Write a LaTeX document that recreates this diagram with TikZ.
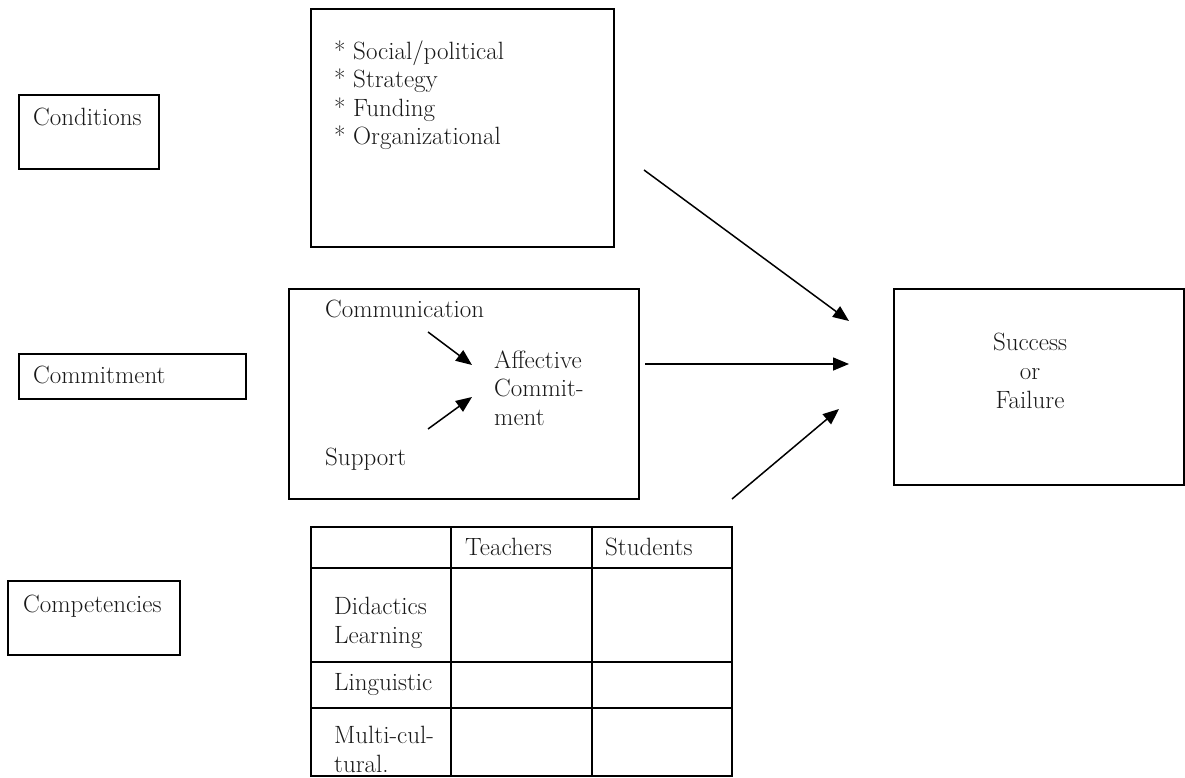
\documentclass[tikz,border=0pt]{standalone}
\usepackage{fontspec}
\usetikzlibrary{arrows.meta}
\begin{document}
\begin{tikzpicture}[x=1pt,y=-1pt,
  box/.style={draw,line width=1.6pt,inner sep=0pt,anchor=north west},
  txt/.style={anchor=base west,inner sep=0pt,align=left,text=black!90,font=\fontsize{25}{28.5}\selectfont},
  ctxt/.style={anchor=base,inner sep=0pt,align=center,text=black!90,font=\fontsize{25}{29}\selectfont},
  arr/.style={line width=1.5pt,-{Triangle[length=16pt,width=13pt]}},
  grid/.style={line width=1.6pt}]
\useasboundingbox (0,0) rectangle (1185,778);

% left labels
\node[box,minimum width=140pt,minimum height=74pt] (condbox) at (18,94) {};
\node[txt] (condtxt) at (33,126) {Conditions};
\node[box,minimum width=227pt,minimum height=45pt] (commbox) at (18,353) {};
\node[txt] (commtxt) at (33,383) {Commitment};
\node[box,minimum width=172pt,minimum height=74pt] (compbox) at (7,580) {};
\node[txt] (comptxt) at (23,612) {Competencies};

% conditions list box (base anchor = last line)
\node[box,minimum width=303pt,minimum height=238pt] (listbox) at (310,8) {};
\node[txt] (listtxt) at (334,145) {* Social/political\\* Strategy\\* Funding\\* Organizational};

% commitment box
\node[box,minimum width=350pt,minimum height=210pt] (midbox) at (288,288) {};
\node[txt] (communication) at (325,317) {Communication};
\node[txt] (affective) at (494,425) {Affective\\Commit-\\ment};
\node[txt] (support) at (325,465) {Support};
\coordinate (c1s) at (428,332);
\coordinate (c1e) at (472,365);
\coordinate (c2s) at (428,429);
\coordinate (c2e) at (472,397);
\draw[arr] (c1s) -- (c1e);
\draw[arr] (c2s) -- (c2e);

% success box
\node[box,minimum width=290pt,minimum height=196pt] (succbox) at (893,288) {};
\node[ctxt] (succtxt) at (1030,408) {Success\\or\\Failure};

% main arrows
\coordinate (a1s) at (644,170);
\coordinate (a1e) at (849,321);
\coordinate (a2s) at (645,364);
\coordinate (a2e) at (849,364);
\coordinate (a3s) at (732,499);
\coordinate (a3e) at (839,409);
\draw[arr] (a1s) -- (a1e);
\draw[arr] (a2s) -- (a2e);
\draw[arr] (a3s) -- (a3e);

% competencies table
\draw[grid] (311,527) rectangle (732,776);
\draw[grid] (451,527) -- (451,776);
\draw[grid] (592,527) -- (592,776);
\draw[grid] (311,568) -- (732,568);
\draw[grid] (311,662) -- (732,662);
\draw[grid] (311,708) -- (732,708);
\node[txt] (teachers) at (465,555) {Teachers};
\node[txt] (students) at (605,555) {Students};
\node[txt] (didactics) at (334,643) {Didactics\\Learning};
\node[txt] (linguistic) at (334,690) {Linguistic};
\node[txt] (multi) at (334,772) {Multi-cul-\\tural.};
\end{tikzpicture}
\end{document}
